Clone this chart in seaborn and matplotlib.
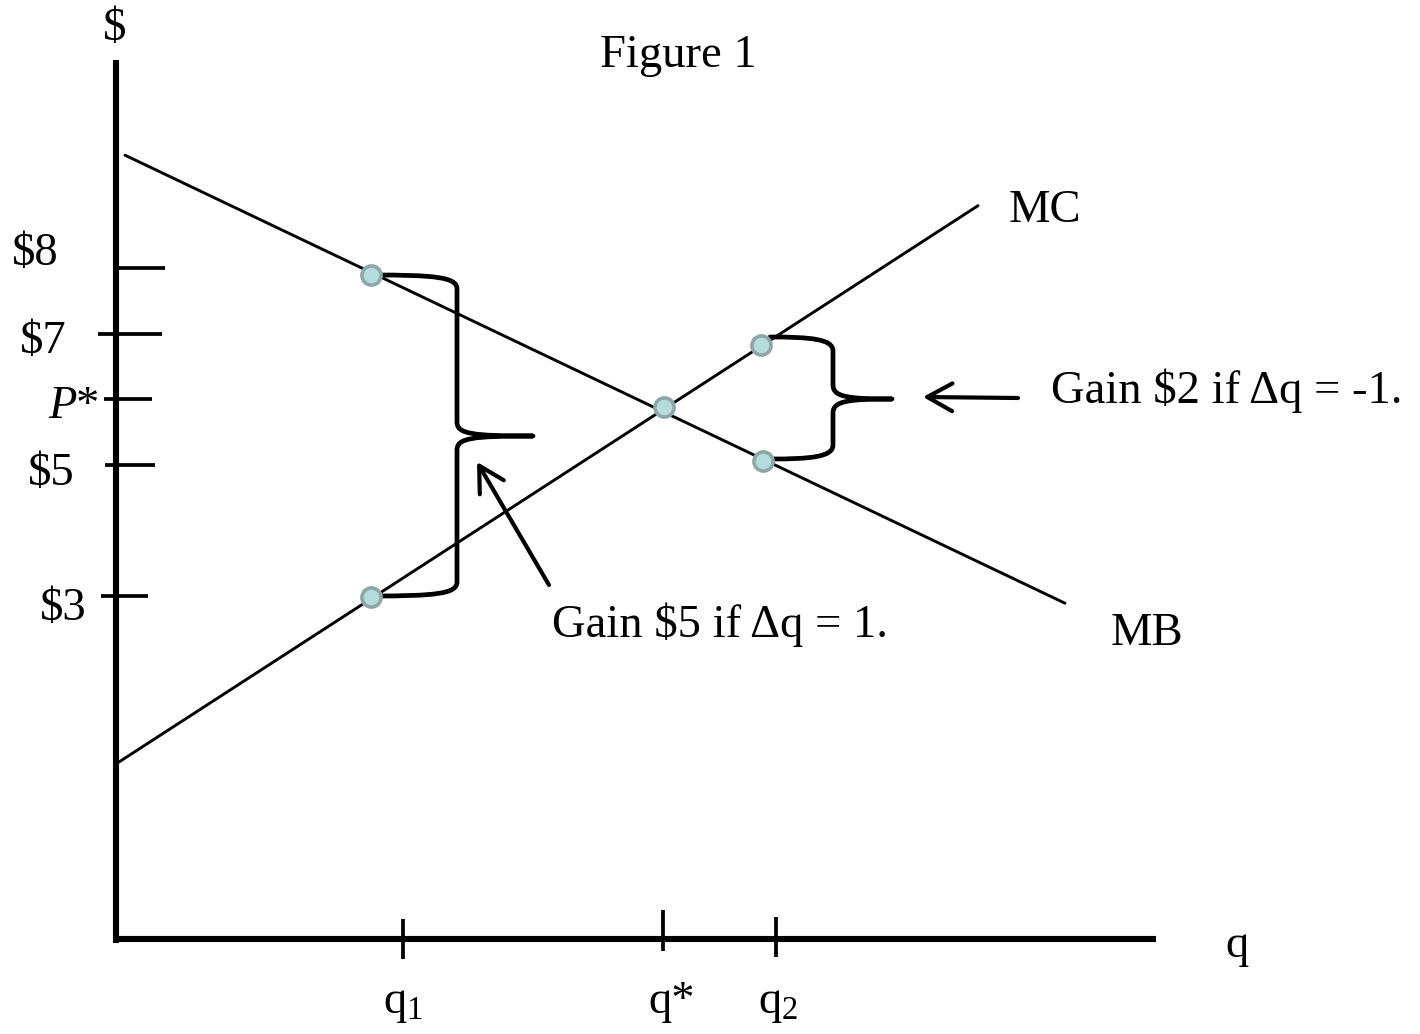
import numpy as np
import pandas as pd
import matplotlib
matplotlib.use("Agg")
import matplotlib.pyplot as plt
import seaborn as sns
from matplotlib.path import Path
from matplotlib.patches import PathPatch

# ---------------- data ----------------
price_ticks = [8, 7, 6, 5, 3]
price_labels = ["$8", "$7", "P*", "$5", "$3"]
q_ticks = [2.87, 5.47, 6.60]
q_labels = ["q$_1$", "q*", "q$_2$"]
mb_q = [0.09, 9.49]
mb_p = [9.72, 2.89]
mc_q = [0.01, 8.62]
mc_p = [0.45, 8.95]
dot_q = [2.55, 2.55, 5.48, 6.45, 6.47]
dot_p = [7.89, 2.98, 5.88, 6.83, 5.06]

# ---------------- style ----------------
sns.set_theme(style="white")
plt.rcParams["font.family"] = ["Liberation Serif", "DejaVu Serif"]
plt.rcParams["mathtext.fontset"] = "custom"
plt.rcParams["mathtext.rm"] = "Liberation Serif"
plt.rcParams["mathtext.it"] = "Liberation Serif:italic"
plt.rcParams["text.color"] = "black"

W, H = 1420, 1034
X0, PXQ = 116.0, 100.0
Y8, PXP = 268.0, 65.6


def qx(px):
    return (px - X0) / PXQ


def py(pyx):
    return 8 - (pyx - Y8) / PXP


fig = plt.figure(figsize=(W / 100, H / 100), dpi=100)
ax = fig.add_axes([0, 0, 1, 1])

FS = 33.6
LW_AX = 4.4
LW_TICK = 2.7
LW_LINE = 2.1
LW_BR = 3.4

# curves
df = pd.DataFrame({
    "q": mb_q + mc_q,
    "p": mb_p + mc_p,
    "curve": ["MB"] * len(mb_q) + ["MC"] * len(mc_q),
})
sns.lineplot(data=df, x="q", y="p", hue="curve", palette={"MB": "black", "MC": "black"},
             estimator=None, sort=False, lw=LW_LINE, legend=False, ax=ax)
ax.set_xlim(qx(0), qx(W))
ax.set_ylim(py(H), py(0))
ax.axis("off")

# axes
ax.plot([0, 0], [py(60), py(943)], color="black", lw=LW_AX, solid_capstyle="butt")
ax.plot([qx(113), qx(1156)], [py(939), py(939)], color="black", lw=LW_AX, solid_capstyle="butt")

# y ticks
tick_l = [117, 98, 104, 105, 101]
tick_r = [165, 162, 152, 155, 148]
for p, l, r in zip(price_ticks, tick_l, tick_r):
    ax.plot([qx(l), qx(r)], [p, p], color="black", lw=LW_TICK, solid_capstyle="butt")

lab_x = [12, 20, 48, 28, 40]
lab_y = [265, 353, 418, 485, 620]
for lab, lx, ly in zip(price_labels, lab_x, lab_y):
    if lab == "P*":
        ax.text(qx(lx), py(ly), "P", fontsize=FS, style="italic", ha="left", va="baseline")
        ax.text(qx(lx + 28), py(ly), "*", fontsize=FS, ha="left", va="baseline")
    else:
        ax.text(qx(lx), py(ly), lab, fontsize=FS, ha="left", va="baseline")

# x ticks
xt_top = [919, 910, 917]
xt_bot = [959, 951, 957]
for q, t, b in zip(q_ticks, xt_top, xt_bot):
    ax.plot([q, q], [py(t), py(b)], color="black", lw=LW_TICK, solid_capstyle="butt")
xl_x = [383, 648, 758]
for lab, lx in zip(q_labels, xl_x):
    ax.text(qx(lx), py(1013), lab, fontsize=FS, ha="left", va="baseline")


def brace(x0, ytop, ybot, xbar, xtip, ytip, r=14):
    verts = [
        (x0, ytop),
        (xbar - 22, ytop), (xbar, ytop + 2), (xbar, ytop + r),
        (xbar, ytip - r),
        (xbar, ytip - 2), (xbar + 15, ytip), (xtip, ytip),
        (xbar + 15, ytip), (xbar, ytip + 2), (xbar, ytip + r),
        (xbar, ybot - r),
        (xbar, ybot - 2), (xbar - 22, ybot), (x0, ybot),
    ]
    codes = [Path.MOVETO,
             Path.CURVE4, Path.CURVE4, Path.CURVE4,
             Path.LINETO,
             Path.CURVE4, Path.CURVE4, Path.CURVE4,
             Path.CURVE4, Path.CURVE4, Path.CURVE4,
             Path.LINETO,
             Path.CURVE4, Path.CURVE4, Path.CURVE4]
    v = [(qx(a), py(b)) for a, b in verts]
    ax.add_patch(PathPatch(Path(v, codes), fill=False, lw=LW_BR, edgecolor="black",
                           capstyle="round", joinstyle="round", zorder=3))


brace(371, 275, 596, 457, 533, 436)
brace(770, 337, 459, 833, 892, 399)

# dots
sns.scatterplot(x=dot_q, y=dot_p, s=190, color="#b4dcdd", edgecolor="#8ea6a7",
                linewidth=2.6, zorder=6, ax=ax)

# arrows
arrow_kw = dict(arrowstyle="->,head_length=0.9,head_width=0.5", lw=3.0, color="black",
                mutation_scale=20, shrinkA=0, shrinkB=0, capstyle="round")
ax.annotate("", xy=(qx(477), py(462)), xytext=(qx(549), py(585)), arrowprops=arrow_kw)
ax.annotate("", xy=(qx(923), py(397)), xytext=(qx(1018), py(398)), arrowprops=arrow_kw)

# texts
ax.text(qx(115), py(40), "$", fontsize=FS, ha="center", va="baseline")
ax.text(qx(600), py(67), "Figure 1", fontsize=FS, ha="left", va="baseline")
ax.text(qx(1009), py(222), "MC", fontsize=FS, ha="left", va="baseline")
ax.text(qx(1111), py(645), "MB", fontsize=FS, ha="left", va="baseline")
ax.text(qx(552), py(637), "Gain $5 if \u0394q = 1.", fontsize=FS, ha="left", va="baseline")
ax.text(qx(1051), py(403), "Gain $2 if \u0394q = -1.", fontsize=FS, ha="left", va="baseline")
ax.text(qx(1225), py(957), "q", fontsize=FS, ha="left", va="baseline")

fig.savefig("out.png", dpi=100, facecolor="white")
